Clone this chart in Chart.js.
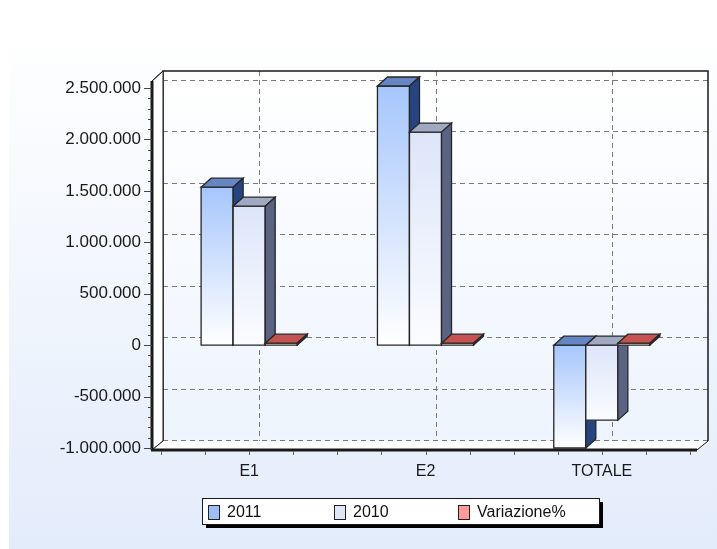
<!DOCTYPE html>
<html>
<head>
<meta charset="utf-8">
<script src="https://cdn.jsdelivr.net/npm/chart.js@4.4.1/dist/chart.umd.min.js"></script>
<style>
    html, body { margin: 0; padding: 0; background: #ffffff; }
    #grafico { display: block; }
</style>
</head>
<body>
<canvas id="grafico" width="717" height="549"></canvas>
<script>
let categorie = ["E1", "E2", "TOTALE"]
let valori2011 = [1536000, 2547000, -1000000]
let valori2010 = [1351000, 2071000, -729000]
let variazione = [13.7, 23.0, -37.2]
let etichetteSerie = ["2011", "2010", "Variazione%"]
let tickY = [-1000000, -500000, 0, 500000, 1000000, 1500000, 2000000, 2500000]

let fonte = "'Liberation Sans', Arial, sans-serif"

// cores de cada serie: frente (topo -> base), face de cima, lado, legenda
let cores = [
    { alto: "#a6c6fc", basso: "#ffffff", cima: "#6586c2", lato: "#26447f", legenda: "#9dbdf5" },
    { alto: "#dde5f9", basso: "#fbfcff", cima: "#a0a9c2", lato: "#5a6482", legenda: "#dfe6f8" },
    { alto: "#ffffff", basso: "#ffffff", cima: "#c4524f", lato: "#8a3330", legenda: "#ff9a9a" }
]

const DX = 11, DY = -9   // profundidade das paredes
const BX = 10, BY = -9   // profundidade das barras

function formatar(v) {
    let s = Math.abs(v).toString().replace(/\B(?=(\d{3})+(?!\d))/g, ".")
    return (v < 0 ? "-" : "") + s
}

function poligono(ctx, pts, fill, stroke, lw) {
    ctx.beginPath()
    ctx.moveTo(pts[0][0], pts[0][1])
    for (let i = 1; i < pts.length; i++) ctx.lineTo(pts[i][0], pts[i][1])
    ctx.closePath()
    if (fill) { ctx.fillStyle = fill; ctx.fill() }
    if (stroke) { ctx.strokeStyle = stroke; ctx.lineWidth = lw || 1; ctx.stroke() }
}

let cena3d = {
    id: "cena3d",
    beforeDraw(chart) {
        let ctx = chart.ctx
        let { left, right, top, bottom } = chart.chartArea
        let y = chart.scales.y
        let x = chart.scales.x
        let W = chart.width, H = chart.height

        ctx.save()
        ctx.fillStyle = "#ffffff"
        ctx.fillRect(0, 0, W, H)
        let g = ctx.createLinearGradient(0, 28, 0, H)
        g.addColorStop(0, "#ffffff")
        g.addColorStop(1, "#e3ecfb")
        ctx.fillStyle = g
        ctx.fillRect(9, 28, W - 9, H - 28)

        let fx0 = left - 9, fx1 = right + 7, fyT = top - 7, fyB = bottom + 2
        let bx0 = fx0 + DX, bx1 = fx1 + DX, byT = fyT + DY - 1, byB = fyB + DY

        // parede do fundo
        let gp = ctx.createLinearGradient(0, byT, 0, byB)
        gp.addColorStop(0, "#ffffff")
        gp.addColorStop(1, "#eef4fd")
        ctx.fillStyle = gp
        ctx.fillRect(bx0, byT, bx1 - bx0, byB - byT)

        // grade tracejada
        ctx.setLineDash([5, 4])
        ctx.strokeStyle = "#7a7a7a"
        ctx.lineWidth = 1
        tickY.forEach(v => {
            let yy = Math.round(y.getPixelForValue(v) + DY + 1) + 0.5
            ctx.beginPath()
            ctx.moveTo(bx0, yy)
            ctx.lineTo(bx1, yy)
            ctx.stroke()
        })
        categorie.forEach((c, i) => {
            let xx = Math.round(x.getPixelForValue(i) + BX) + 0.5
            ctx.beginPath()
            ctx.moveTo(xx, byT)
            ctx.lineTo(xx, byB)
            ctx.stroke()
        })
        ctx.setLineDash([])

        // bordas do fundo
        ctx.strokeStyle = "#1a1a1a"
        ctx.lineWidth = 1.5
        ctx.beginPath()
        ctx.moveTo(bx0, byB)
        ctx.lineTo(bx0, byT)
        ctx.lineTo(bx1, byT)
        ctx.lineTo(bx1, byB)
        ctx.stroke()

        // parede esquerda
        poligono(ctx, [[fx0, fyT], [bx0, byT], [bx0, byB], [fx0, fyB]], "#ffffff", "#1a1a1a", 1)

        // piso
        poligono(ctx, [[fx0, fyB], [bx0, byB], [bx1, byB], [fx1, fyB]], "#ffffff", null)
        ctx.strokeStyle = "#1a1a1a"
        ctx.lineWidth = 1
        ctx.beginPath()
        ctx.moveTo(fx0, fyB)
        ctx.lineTo(bx0, byB)
        ctx.moveTo(fx1, fyB)
        ctx.lineTo(bx1, byB)
        ctx.stroke()
        ctx.lineWidth = 3
        ctx.beginPath()
        ctx.moveTo(fx0 - 1, fyB)
        ctx.lineTo(fx1, fyB)
        ctx.stroke()

        // eixo y da frente
        ctx.lineWidth = 3
        ctx.beginPath()
        ctx.moveTo(fx0, fyT)
        ctx.lineTo(fx0, fyB)
        ctx.stroke()
        ctx.lineWidth = 1
        ctx.beginPath()
        ctx.moveTo(fx0, fyT)
        ctx.lineTo(bx0, byT)
        ctx.stroke()

        // marcas do eixo y
        ctx.strokeStyle = "#444444"
        for (let v = y.min; v <= y.max; v += 100000) {
            let yy = Math.round(y.getPixelForValue(v)) + 0.5
            let maior = v % 500000 === 0
            ctx.beginPath()
            ctx.moveTo(fx0 - (maior ? 8 : 4), yy)
            ctx.lineTo(fx0, yy)
            ctx.stroke()
        }
        // marcas do eixo x
        ctx.strokeStyle = "#666666"
        for (let k = 0; k <= categorie.length * 4; k++) {
            let xx = Math.round(left + k * (right - left) / (categorie.length * 4)) + 0.5
            ctx.beginPath()
            ctx.moveTo(xx, fyB + 1)
            ctx.lineTo(xx, fyB + 5)
            ctx.stroke()
        }
        ctx.restore()
    },
    afterDatasetsDraw(chart) {
        let ctx = chart.ctx
        let { top, bottom } = chart.chartArea
        ctx.save()
        ctx.lineJoin = "miter"
        categorie.forEach((c, i) => {
            chart.data.datasets.forEach((ds, d) => {
                let el = chart.getDatasetMeta(d).data[i]
                let x0 = el.x - el.width / 2, x1 = el.x + el.width / 2
                let yA = Math.min(el.y, el.base), yB = Math.max(el.y, el.base)
                yA = Math.max(yA, top - 2)
                yB = Math.min(yB, bottom + 2)
                if (yB - yA < 2) yA = yB - 2
                let cor = cores[d]
                let g = ctx.createLinearGradient(0, yA, 0, yB)
                g.addColorStop(0, cor.alto)
                g.addColorStop(1, cor.basso)
                poligono(ctx, [[x0, yA], [x1, yA], [x1, yB], [x0, yB]], g, "#262626", 1.3)
                poligono(ctx, [[x0, yA], [x0 + BX, yA + BY], [x1 + BX, yA + BY], [x1, yA]], cor.cima, "#262626", 1.3)
                poligono(ctx, [[x1, yA], [x1 + BX, yA + BY], [x1 + BX, yB + BY], [x1, yB]], cor.lato, "#262626", 1.3)
            })
        })
        ctx.restore()
    },
    afterDraw(chart) {
        // legenda com caixa e sombra
        let ctx = chart.ctx
        let lx = 202, ly = 498, lw = 397, lh = 26
        ctx.save()
        ctx.fillStyle = "#000000"
        ctx.fillRect(lx + 4, ly + 4, lw, lh)
        ctx.fillStyle = "#ffffff"
        ctx.fillRect(lx, ly, lw, lh)
        ctx.strokeStyle = "#1a1a1a"
        ctx.lineWidth = 1
        ctx.strokeRect(lx + 0.5, ly + 0.5, lw, lh)
        let posX = [208, 334, 458]
        ctx.font = "16px " + fonte
        ctx.textBaseline = "middle"
        etichetteSerie.forEach((t, k) => {
            ctx.fillStyle = cores[k].legenda
            ctx.fillRect(posX[k] + 0.5, 505.5, 11, 14)
            ctx.strokeStyle = "#222222"
            ctx.strokeRect(posX[k] + 0.5, 505.5, 11, 14)
            ctx.fillStyle = "#111111"
            ctx.fillText(t, posX[k] + 19, 513)
        })
        ctx.restore()
    }
}

let grafico = new Chart(document.getElementById("grafico"), {
    type: "bar",
    data: {
        labels: categorie,
        datasets: [
            { label: etichetteSerie[0], data: valori2011 },
            { label: etichetteSerie[1], data: valori2010 },
            { label: etichetteSerie[2], data: variazione }
        ].map(ds => Object.assign(ds, {
            backgroundColor: "rgba(0,0,0,0)",
            borderWidth: 0,
            categoryPercentage: 0.545,
            barPercentage: 1.0
        }))
    },
    options: {
        responsive: false,
        animation: false,
        events: [],
        layout: { padding: { top: 88, right: 27, left: 0, bottom: 56 } },
        plugins: {
            legend: { display: false },
            tooltip: { enabled: false }
        },
        scales: {
            x: {
                grid: { display: false, drawTicks: false },
                border: { display: false },
                ticks: { font: { family: fonte, size: 16 }, color: "#1a1a1a", padding: 14 },
                afterFit: s => { s.height = 45 }
            },
            y: {
                min: -1000000,
                max: 2500000,
                grid: { display: false, drawTicks: false },
                border: { display: false },
                ticks: {
                    stepSize: 500000,
                    font: { family: fonte, size: 17 },
                    color: "#1a1a1a",
                    padding: 20,
                    callback: v => formatar(v)
                },
                afterFit: s => { s.width = 161 }
            }
        }
    },
    plugins: [cena3d]
})
</script>
</body>
</html>
